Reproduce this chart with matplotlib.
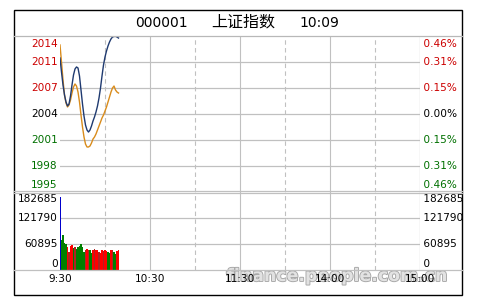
import matplotlib
matplotlib.use('Agg')
import matplotlib.pyplot as plt
import matplotlib.patheffects as pe
from matplotlib.lines import Line2D
from matplotlib.patches import Rectangle
import numpy as np

# index data, one point per minute from 9:30 to 10:09
pre_close = 2004.3
index_px = [2010.92, 2009.26, 2007.73, 2006.55, 2005.72, 2005.25, 2005.48, 2006.43, 2007.73, 2008.91,
            2009.62, 2009.86, 2009.74, 2008.79, 2007.14, 2005.48, 2004.06, 2003.00, 2002.41, 2002.17,
            2002.41, 2002.88, 2003.47, 2003.95, 2004.54, 2005.25, 2006.19, 2007.37, 2008.79, 2010.09,
            2011.04, 2011.75, 2012.34, 2012.81, 2013.17, 2013.40, 2013.46, 2013.48, 2013.40, 2013.28]
avg_px = [2012.46, 2010.45, 2008.32, 2006.55, 2005.60, 2005.13, 2005.36, 2005.95, 2006.78, 2007.49,
          2007.85, 2007.61, 2006.90, 2005.72, 2004.18, 2002.76, 2001.58, 2000.75, 2000.40, 2000.40,
          2000.52, 2000.87, 2001.34, 2001.58, 2001.94, 2002.41, 2002.88, 2003.35, 2003.83, 2004.18,
          2004.65, 2005.13, 2005.72, 2006.31, 2006.90, 2007.37, 2007.61, 2007.14, 2006.90, 2006.78]
volume = [172000, 70000, 82000, 64000, 61000, 53000, 43000, 56000, 58000, 51000,
          53000, 49000, 55000, 56000, 62000, 53000, 43000, 47000, 49000, 46000,
          47000, 39000, 46000, 49000, 46000, 47000, 43000, 39000, 47000, 44000,
          47000, 45000, 41000, 39000, 46000, 47000, 42000, 38000, 44000, 46000]
vol_kind = ['b', 'g', 'g', 'g', 'g', 'r', 'd', 'r', 'r', 'g',
            'd', 'g', 'g', 'g', 'g', 'g', 'g', 'd', 'r', 'd',
            'g', 'g', 'r', 'd', 'r', 'r', 'd', 'r', 'r', 'd',
            'r', 'r', 'g', 'g', 'r', 'd', 'g', 'g', 'r', 'r']

price_left = ['1995', '1998', '2001', '2004', '2007', '2011', '2014']
price_right = ['0.46%', '0.31%', '0.15%', '0.00%', '0.15%', '0.31%', '0.46%']
price_col = ['g', 'g', 'g', 'k', 'r', 'r', 'r']
vol_ticks = [0, 60895, 121790, 182685]
time_labels = ['9:30', '10:30', '11:30', '14:00', '15:00']
time_pos = [0, 60, 120, 180, 240]

code, name, clock = '000001', '上证指数', '10:09'

cmap = {'r': '#cc0000', 'g': '#007000', 'k': 'black', 'd': '#b03030', 'b': '#0000cc'}
bar_cmap = {'r': '#ff0000', 'g': '#008000', 'd': '#b22222', 'b': '#0000cc'}
grid_c = '#c0c0c0'

W, H = 478, 303
fig = plt.figure(figsize=(W / 100, H / 100), dpi=100)
fig.patch.set_facecolor('white')

def fx(px):
    return px / W

def fy(py):
    return 1 - py / H

# plot area in pixels
L, R = 60, 420
PT, PB = 36, 192
VB = 270

ax = fig.add_axes([fx(L), fy(PB), fx(R - L), (PB - PT) / H])
axv = fig.add_axes([fx(L), fy(VB), fx(R - L), (VB - PB) / H])

span = 0.0046 * pre_close
lo, hi = pre_close - span, pre_close + span
ticks = [pre_close * (1 + k * 0.0046 / 3) for k in range(-3, 4)]

for a in (ax, axv):
    a.set_xlim(0, 240)
    a.set_xticks([])
    a.set_yticks([])
    for s in a.spines.values():
        s.set_visible(False)
    a.patch.set_alpha(0)
    for t in (30, 60, 90, 120, 150, 180, 210):
        a.axvline(t, color=grid_c, lw=0.8, ls=(0, (4, 3)) if t % 60 == 30 else '-', zorder=0)
    a.axvline(240, color=grid_c, lw=0.9, zorder=0)

ax.set_ylim(lo, hi)
axv.set_ylim(0, vol_ticks[-1])

for t in ticks[1:-1]:
    ax.axhline(t, color=grid_c, lw=0.9, zorder=0)
for t in vol_ticks[1:-1]:
    axv.axhline(t, color=grid_c, lw=0.9, zorder=0)

minutes = np.arange(len(index_px))
ax.plot(minutes, avg_px, color='#d98c1c', lw=1.0, zorder=3)
ax.plot(minutes, index_px, color='#1f3a70', lw=1.0, zorder=4)
axv.bar(minutes, volume, width=0.75, color=[bar_cmap[k] for k in vol_kind], linewidth=0, zorder=3)

fs = 7.6
ph = PB - PT
lx = -2.5 / (R - L)
for t, lt, rt, c in zip(ticks, price_left, price_right, price_col):
    yf = (t - lo) / (hi - lo)
    yf = min(max(yf, 7.5 / ph), 1 - 8 / ph)
    ax.text(lx, yf, lt, transform=ax.transAxes, ha='right', va='center',
            fontsize=fs, color=cmap[c])
    ax.text(1.0, yf, ' ' + rt, transform=ax.transAxes, ha='left', va='center',
            fontsize=fs, color=cmap[c])

vh = VB - PB
for t in vol_ticks:
    yf = t / vol_ticks[-1]
    yf = min(max(yf, 6 / vh), 1 - 6.5 / vh)
    axv.text(lx, yf, str(t), transform=axv.transAxes, ha='right', va='center',
             fontsize=fs, color='black')
    axv.text(1.0, yf, ' ' + str(t), transform=axv.transAxes, ha='left', va='center',
             fontsize=fs, color='black')

# watermark, drawn under the time labels
axv.text(fx(337), fy(276), 'finance.people.com.cn', transform=fig.transFigure,
         ha='center', va='center', fontsize=12.5, fontweight='bold', color='#e2e2e2',
         zorder=1, clip_on=False,
         path_effects=[pe.withStroke(linewidth=1.3, foreground='#a6a6a6')])

for p, lab in zip(time_pos, time_labels):
    axv.text(p, -(279.5 - VB) / vh * vol_ticks[-1], lab, ha='center', va='center',
             fontsize=fs, color='black', zorder=6, clip_on=False)

# title
fig.text(fx(161), fy(23), code, ha='center', va='center', fontsize=10)
fig.text(fx(243), fy(22.5), name, ha='center', va='center', fontsize=11.5,
         family=['Noto Sans CJK SC', 'DejaVu Sans'])
fig.text(fx(319), fy(23), clock, ha='center', va='center', fontsize=10)

# full-width rules and frame
for y in (PT, PB - 1, PB + 1, VB):
    fig.add_artist(Line2D([fx(14), fx(462)], [fy(y), fy(y)],
                          color=grid_c if y != PT else '#b8b8b8', lw=0.9))
fig.add_artist(Rectangle((fx(14), fy(295)), fx(448), (295 - 10) / H, fill=False,
                         edgecolor='black', lw=1.0))

fig.savefig('out.png', dpi=100)
